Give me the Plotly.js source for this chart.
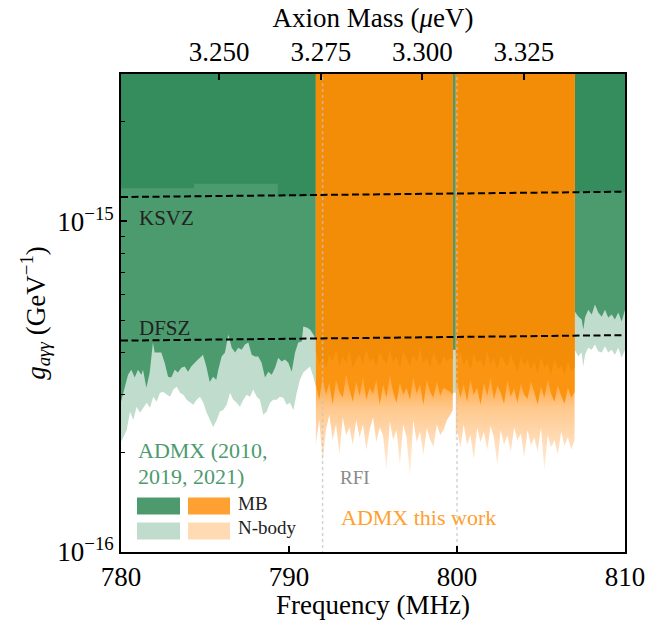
<!DOCTYPE html>
<html>
<head>
<meta charset="utf-8">
<script src="https://cdn.plot.ly/plotly-3.0.1.min.js"></script>
<style>html,body{margin:0;padding:0;background:#fff;}</style>
</head>
<body>
<div id="chart" style="width:659px;height:620px;"></div>
<script>
// ---- data (coupling values in units of 1e-16 GeV^-1, frequencies in MHz) ----
const G_UNIT = 1e-16;
const MHZ_TO_UEV = 4.135667e-3;

const freqTicks = [780, 790, 800, 810];
const massTicks = [3.250, 3.275, 3.300, 3.325];
const massTickText = ['3.250', '3.275', '3.300', '3.325'];
const yTickVals = [1e-16, 1e-15];
const yTickText = ['10<sup>−16</sup>', '10<sup>−15</sup>'];
const yMinorVals = [2e-16, 3e-16, 4e-16, 5e-16, 6e-16, 7e-16, 8e-16, 9e-16, 2e-15];

// previous ADMX, MB limit (left segment)
const mbLeftF = [780.00,780.42,780.61,780.82,781.01,781.21,781.31,781.51,781.71,781.90,782.00,782.20,782.40,782.60,782.80,782.99,783.20,783.39,783.59,783.79,783.99,784.18,784.39,784.58,784.78,784.88,785.08,785.28,785.48,785.67,785.79,785.99,786.19,786.39,786.59,786.79,786.98,787.18,787.38,787.58,787.78,787.98,788.17,788.37,788.57,788.77,788.97,789.17,789.36,789.56,789.76,789.96,790.16,790.36,790.55,790.76,790.85,791.05,791.25,791.45,791.60];
const mbLeftG = [2.85,3.44,3.56,3.37,3.56,3.44,3.56,3.14,3.49,4.30,4.01,4.01,4.01,3.74,3.39,3.37,3.56,3.49,3.61,3.64,3.51,3.64,3.74,3.82,3.90,3.95,3.64,3.27,3.39,3.32,3.56,3.90,4.01,4.55,4.15,4.01,4.15,4.09,4.24,4.30,3.95,3.90,3.90,3.74,3.37,3.51,3.44,3.61,3.87,3.77,3.82,3.74,3.51,4.01,4.30,4.33,4.81,4.78,4.71,4.55,4.39];
// previous ADMX, N-body limit (left segment)
const nbLeftF = [780.00,780.34,780.54,780.73,780.93,781.13,781.33,781.53,781.73,781.92,782.12,782.32,782.52,782.72,782.92,783.11,783.32,783.51,783.71,783.91,784.11,784.30,784.51,784.70,784.90,785.10,785.30,785.49,785.70,785.89,786.09,786.29,786.49,786.68,786.89,787.08,787.28,787.48,787.68,787.87,788.08,788.27,788.47,788.67,788.87,789.06,789.27,789.46,789.66,789.86,790.06,790.26,790.46,790.65,790.85,791.05,791.25,791.45,791.60];
const nbLeftG = [2.15,2.34,2.66,2.51,2.75,2.64,2.73,2.83,2.73,2.95,2.85,3.03,3.05,2.99,2.95,3.10,3.16,3.03,2.99,2.89,2.83,2.79,2.89,2.95,2.83,2.64,2.51,2.39,2.51,2.66,2.69,2.79,3.03,2.89,2.83,2.75,2.89,2.99,2.95,3.10,2.95,2.89,2.60,2.66,2.83,2.89,2.89,2.95,2.93,2.79,2.83,2.69,3.03,3.32,3.49,3.56,3.64,3.39,3.16];
// previous ADMX (right segment)
const rightF = [807.00,807.22,807.42,807.52,807.62,807.81,808.02,808.21,808.41,808.61,808.81,809.00,809.21,809.40,809.60,809.80,810.00];
const mbRightG = [5.35,5.16,5.05,4.71,5.12,5.41,5.23,5.61,5.30,5.15,5.41,5.12,5.23,5.05,5.30,4.98,5.41];
const nbRightG = [4.09,3.91,4.01,3.64,3.95,4.15,4.09,4.24,4.05,4.01,4.19,4.01,4.09,3.95,4.15,3.87,4.09];
// narrow gap inside this work's scan
const gapF = [799.75, 799.93];
const gapMB = [4.09, 4.09];
const gapNB = [3.03, 3.03];
// ADMX 2010 limit
const old2010LeftF = [780.00, 784.35, 784.35, 789.33, 789.33, 791.60];
const old2010LeftG = [12.59, 12.59, 13.01, 13.01, 11.91, 11.91];
const old2010RightF = [807.00, 810.00];
const old2010RightG = [12.30, 12.30];

// this work, first scan segment
const workF1 = [791.6,791.8,792.0,792.2,792.4,792.6,792.8,793.0,793.2,793.4,793.6,793.8,794.0,794.2,794.4,794.6,794.8,795.0,795.2,795.4,795.6,795.8,796.0,796.2,796.4,796.6,796.8,797.0,797.2,797.4,797.6,797.8,798.0,798.2,798.4,798.6,798.8,799.0,799.2,799.4,799.6,799.75];
const workCore1 = [4.04,3.69,3.87,3.61,3.95,3.77,4.09,3.66,3.90,3.74,4.04,3.61,3.82,3.95,3.69,4.09,3.77,3.87,3.64,4.01,3.82,3.69,4.09,3.74,3.90,3.61,4.04,3.82,3.66,3.95,3.77,4.09,3.71,3.87,3.61,4.01,3.79,3.66,3.93,3.77,3.87,3.82];
const workMB1 = [3.21,2.89,3.37,2.99,3.25,2.79,3.32,3.05,2.93,3.44,3.10,2.85,3.28,2.97,3.37,2.89,3.14,3.01,3.32,2.79,3.21,2.93,3.42,3.05,2.83,3.25,2.99,3.14,2.89,3.37,3.01,3.21,2.79,3.32,3.05,2.93,3.28,2.97,3.14,3.10,3.05,2.99];
const workNB1 = [2.11,2.51,1.87,2.34,2.60,2.18,2.43,1.97,2.55,2.26,2.38,2.11,2.51,2.22,2.43,2.04,2.34,2.55,2.15,2.38,2.25,1.77,2.48,2.18,2.34,1.83,2.43,2.22,1.68,2.51,2.15,2.31,1.97,2.38,2.18,2.08,2.43,2.26,2.34,2.51,2.60,2.69];
// this work, second scan segment
const workF2 = [799.93,800.0,800.2,800.4,800.6,800.8,801.0,801.2,801.4,801.6,801.8,802.0,802.2,802.4,802.6,802.8,803.0,803.2,803.4,803.6,803.8,804.0,804.2,804.4,804.6,804.8,805.0,805.2,805.4,805.6,805.8,806.0,806.2,806.4,806.6,806.8,807.0];
const workCore2 = [3.95,3.77,4.04,3.66,3.87,3.56,3.98,3.74,3.82,3.61,4.04,3.69,3.87,3.56,3.93,3.77,3.64,3.95,3.71,3.51,3.87,3.66,3.82,3.56,3.77,3.46,3.87,3.61,3.71,3.42,3.82,3.56,3.66,3.44,3.77,3.51,3.61];
const workMB2 = [3.10,3.28,2.93,3.21,2.85,3.32,2.99,3.14,2.79,3.25,2.97,3.37,2.89,3.19,3.03,2.81,3.30,2.95,3.12,2.83,3.23,2.99,2.91,3.28,3.05,2.79,3.16,2.93,3.32,3.01,2.85,3.19,2.97,2.81,3.14,2.93,3.05];
const workNB2 = [2.18,2.34,2.07,2.43,2.11,2.26,1.90,2.38,2.15,2.31,2.04,2.41,2.22,1.83,2.34,2.11,2.25,2.01,2.38,2.18,2.28,1.93,2.34,2.10,2.22,2.01,2.38,1.77,2.26,2.07,2.18,1.97,2.31,2.10,2.22,2.04,2.18];

// benchmark models
const ksvzF = [780, 810];
const ksvzG = [11.85, 12.30];
const dfszF = [780, 810];
const dfszG = [4.36, 4.53];
// RFI markers
const rfiF = [792.0, 800.0];

// ---- styling ----
const C = {
  darkGreen: '#358d5e',
  midGreen: '#4c9b6f',
  lightGreen: '#bfdccc',
  orangeTop: '#f38d08',
  orangeMB: '#fb9511',
  peach: '#ffdab3',
  swatchOrange: '#ffa033',
  textGreen: '#4c9a6e',
  textOrange: '#ff9f2e'
};
const TOP = 6e-15;
const BOT = 0.8e-16;
const FONT = '"Liberation Serif", "Times New Roman", "DejaVu Serif", serif';

function band(f, g, color, gradient) {
  const t = {
    x: f.concat([f[f.length - 1], f[0]]),
    y: g.map(v => v * G_UNIT).concat([TOP, TOP]),
    fill: 'toself', fillcolor: color, mode: 'lines',
    line: {width: 0, color: color}, hoverinfo: 'skip', showlegend: false
  };
  if (gradient) t.fillgradient = gradient;
  return t;
}

const peachFade = {
  type: 'vertical',
  start: 1.7e-16, stop: 3.2e-16,
  colorscale: [[0, 'rgb(255,240,226)'], [0.35, 'rgb(255,222,188)'], [0.75, 'rgb(255,200,140)'], [1, 'rgb(255,170,70)']]
};

const traces = [
  band(nbLeftF, nbLeftG, C.lightGreen),
  band(rightF, nbRightG, C.lightGreen),
  band(gapF, gapNB, C.lightGreen),
  band(mbLeftF, mbLeftG, C.midGreen),
  band(rightF, mbRightG, C.midGreen),
  band(gapF, gapMB, C.midGreen),
  band(old2010LeftF, old2010LeftG, C.darkGreen),
  band(old2010RightF, old2010RightG, C.darkGreen),
  band(workF1, workNB1, C.peach, peachFade),
  band(workF2, workNB2, C.peach, peachFade),
  band(workF1, workMB1, C.orangeMB),
  band(workF2, workMB2, C.orangeMB),
  band(workF1, workCore1, C.orangeTop),
  band(workF2, workCore2, C.orangeTop)
];

rfiF.forEach(f => traces.push({
  x: [f, f], y: [BOT, TOP], mode: 'lines',
  line: {color: 'rgba(195,195,195,0.75)', width: 1.5, dash: 'dot'},
  hoverinfo: 'skip', showlegend: false
}));

traces.push({
  x: ksvzF, y: ksvzG.map(v => v * G_UNIT), mode: 'lines',
  line: {color: 'black', width: 2, dash: '7px,3.5px'}, hoverinfo: 'skip', showlegend: false
});
traces.push({
  x: dfszF, y: dfszG.map(v => v * G_UNIT), mode: 'lines',
  line: {color: 'black', width: 2, dash: '7px,3.5px'}, hoverinfo: 'skip', showlegend: false
});
// invisible trace to activate the top (mass) axis
traces.push({
  x: [780 * MHZ_TO_UEV, 810 * MHZ_TO_UEV], y: [1e-15, 1e-15], xaxis: 'x2', mode: 'markers',
  marker: {opacity: 0}, hoverinfo: 'skip', showlegend: false
});

// pixel helpers for text/legend placement (plot area: x 121..625, y 74..552.5)
const PL = 121, PR = 625, PT = 74, PB = 552.5;
const px = v => (v - PL) / (PR - PL);
const py = v => (PB - v) / (PB - PT);

function ann(text, x, y, size, color) {
  return {text: text, xref: 'paper', yref: 'paper', x: px(x), y: py(y),
    xanchor: 'left', yanchor: 'middle', showarrow: false,
    font: {family: FONT, size: size, color: color}};
}
function rect(x0, y0, x1, y1, color) {
  return {type: 'rect', xref: 'paper', yref: 'paper', x0: px(x0), x1: px(x1), y0: py(y1), y1: py(y0),
    fillcolor: color, line: {width: 0}, layer: 'above'};
}

const axisCommon = {
  ticks: 'inside', ticklen: 6, tickwidth: 1.5, tickcolor: 'black',
  showline: true, linecolor: 'black', linewidth: 1.6,
  showgrid: false, zeroline: false,
  tickfont: {family: FONT, size: 27, color: 'black'}
};

const layout = {
  width: 659, height: 620,
  margin: {l: PL, r: 659 - PR, t: PT, b: 620 - PB, pad: 0},
  paper_bgcolor: 'white', plot_bgcolor: 'white',
  font: {family: FONT, size: 27, color: 'black'},
  showlegend: false,
  xaxis: Object.assign({}, axisCommon, {
    range: [780, 810], tickmode: 'array', tickvals: freqTicks,
    title: {text: 'Frequency (MHz)', font: {family: FONT, size: 27}, standoff: 2}
  }),
  xaxis2: Object.assign({}, axisCommon, {
    overlaying: 'x', side: 'top', anchor: 'y',
    range: [780 * MHZ_TO_UEV, 810 * MHZ_TO_UEV],
    tickmode: 'array', tickvals: massTicks, ticktext: massTickText,
    title: {text: 'Axion Mass (<i>μ</i>eV)', font: {family: FONT, size: 27}, standoff: 2}
  }),
  yaxis: Object.assign({}, axisCommon, {
    type: 'log', range: [-16, -14.554], mirror: true,
    tickmode: 'array', tickvals: yTickVals, ticktext: yTickText,
    minor: {tickmode: 'array', tickvals: yMinorVals, ticks: 'inside', ticklen: 4, tickwidth: 1.2, tickcolor: 'black', showgrid: false},
    title: {text: '<i>g</i><sub><i>aγγ</i></sub> (GeV<sup>−1</sup>)', font: {family: FONT, size: 27}, standoff: 4}
  }),
  annotations: [
    ann('KSVZ', 137, 218, 21, '#222'),
    ann('DFSZ', 137, 328, 21, '#222'),
    ann('ADMX (2010,', 136, 451, 22, C.textGreen),
    ann('2019, 2021)', 136, 477, 22, C.textGreen),
    ann('MB', 236, 504, 19, '#222'),
    ann('N-body', 236, 528, 19, '#222'),
    ann('RFI', 338, 478, 19, '#8a8a8a'),
    ann('ADMX this work', 339, 518, 22, C.textOrange)
  ],
  shapes: [
    rect(137, 498, 180, 515, C.textGreen),
    rect(188, 498, 230, 515, C.swatchOrange),
    rect(137, 523, 180, 540, C.lightGreen),
    rect(188, 523, 230, 540, C.peach)
  ]
};

Plotly.newPlot('chart', traces, layout, {displayModeBar: false});
</script>
</body>
</html>
